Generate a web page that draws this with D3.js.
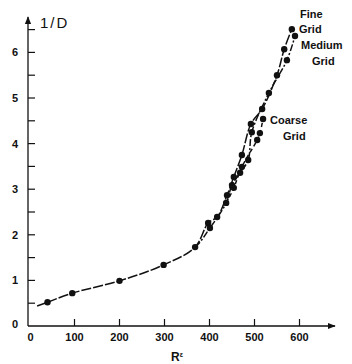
<!DOCTYPE html>
<html>
<head>
<meta charset="utf-8">
<script src="https://cdn.jsdelivr.net/npm/d3@7"></script>
<style>
  html, body { margin: 0; padding: 0; background: #fff; }
  svg { display: block; }
  text { font-family: "Liberation Sans", Arial, sans-serif; fill: #111; }
</style>
</head>
<body>
<svg id="chart" width="352" height="364"></svg>
<script>
// Low-Re points shared by all three grids
const commonR = [40, 95, 200, 298, 368];
const commonV = [0.52, 0.72, 0.99, 1.34, 1.73];

// Fine grid
const fineR = [397, 417, 439, 454, 472, 492, 517, 550, 566, 583];
const fineV = [2.26, 2.39, 2.87, 3.27, 3.75, 4.43, 4.76, 5.50, 6.07, 6.51];

// Medium grid
const mediumR = [401, 437, 450, 468, 486, 494, 532, 572, 590];
const mediumV = [2.15, 2.70, 3.09, 3.36, 3.64, 4.25, 5.11, 5.83, 6.36];

// Coarse grid
const coarseR = [454, 472, 506, 512, 519];
const coarseV = [3.03, 3.49, 4.08, 4.23, 4.54];

const xTicks = [0, 100, 200, 300, 400, 500, 600];
const yTicks = [0, 1, 2, 3, 4, 5, 6];
const yMinorTicks = [0.5, 1.5, 2.5, 3.5, 4.5, 5.5, 6.5];

const svg = d3.select("#chart");
const x = d3.scaleLinear().domain([0, 600]).range([29.5, 299.5]);
const y = d3.scaleLinear().domain([0, 6]).range([326, 52.4]);

const ink = "#111";

// arrowheads
const defs = svg.append("defs");
defs.append("marker").attr("id", "arr").attr("viewBox", "0 0 10 10")
  .attr("refX", 9).attr("refY", 5).attr("markerWidth", 7).attr("markerHeight", 6)
  .attr("orient", "auto")
  .append("path").attr("d", "M0,1 L10,5 L0,9 Z").attr("fill", ink);

// axis lines
svg.append("line").attr("x1", 28).attr("y1", y(0)).attr("x2", 335).attr("y2", y(0))
  .attr("stroke", ink).attr("stroke-width", 1.3).attr("marker-end", "url(#arr)");
svg.append("line").attr("x1", 28).attr("y1", y(0)).attr("x2", 28).attr("y2", 17)
  .attr("stroke", ink).attr("stroke-width", 1.3).attr("marker-end", "url(#arr)");

// x ticks (inward) and labels
const xAxis = svg.append("g");
xAxis.selectAll("line").data(xTicks.filter(d => d > 0)).join("line")
  .attr("x1", d => x(d)).attr("x2", d => x(d))
  .attr("y1", y(0)).attr("y2", y(0) - 7)
  .attr("stroke", ink).attr("stroke-width", 1.2);
xAxis.selectAll("text").data(xTicks).join("text")
  .attr("x", d => x(d) + (d === 0 ? 1 : 0)).attr("y", y(0) + 15)
  .attr("text-anchor", "middle").attr("font-size", 11).attr("font-weight", "bold")
  .text(d => d);

// y ticks (inward) and labels
const yAxis = svg.append("g");
yAxis.selectAll("line").data(yTicks.filter(d => d > 0).concat(yMinorTicks)).join("line")
  .attr("x1", 28).attr("x2", 35)
  .attr("y1", d => y(d)).attr("y2", d => y(d))
  .attr("stroke", ink).attr("stroke-width", 1.2);
yAxis.selectAll("text").data(yTicks).join("text")
  .attr("x", 15).attr("y", d => y(d) + 4 + (d === 0 ? -2 : 0))
  .attr("text-anchor", "middle").attr("font-size", 11).attr("font-weight", "bold")
  .text(d => d);

// axis titles
svg.append("text").attr("x", 40).attr("y", 28).attr("font-size", 15)
  .attr("letter-spacing", 2).text("1/D");
const rt = svg.append("text").attr("x", 171).attr("y", 361).attr("font-size", 12)
  .attr("font-weight", "bold");
rt.append("tspan").text("R");
rt.append("tspan").attr("font-size", 7).attr("dy", -4).text("ε");

// series; `from` marks where a branch leaves the curve it shares points with
const toPts = (R, V) => R.map((r, i) => [r, V[i]]);
const common = toPts(commonR, commonV);
const series = [
  { pts: common.concat(toPts(fineR, fineV)), dash: "10,2" },
  { pts: common.slice(-2).concat(toPts(mediumR, mediumV)), dash: "7,2,2,2", from: 1 },
  { pts: [[mediumR[0], mediumV[0]], [mediumR[1], mediumV[1]]].concat(toPts(coarseR, coarseV)), dash: "4,3", from: 1 }
];

const line = d3.line().x(d => x(d[0])).y(d => y(d[1])).curve(d3.curveCatmullRom.alpha(0.5));

const g = svg.append("g");
series.forEach(s => {
  const p = g.append("path")
    .attr("d", line(s.pts)).attr("fill", "none")
    .attr("stroke", ink).attr("stroke-width", 1.5)
    .attr("stroke-dasharray", s.dash);
  if (s.from) {
    // the leading points only shape the tangent; leave that stretch undrawn
    const tmp = g.append("path").attr("d", line(s.pts.slice(0, s.from + 1))).attr("fill", "none");
    const skip = tmp.node().getTotalLength();
    tmp.remove();
    const total = p.node().getTotalLength();
    const parts = s.dash.split(",").map(Number);
    let arr = [0, skip];
    let len = 0;
    while (len < total) { arr = arr.concat(parts); len += d3.sum(parts); }
    p.attr("stroke-dasharray", arr.join(","));
  }
});

// the short lead-in before the first point
svg.append("path")
  .attr("d", line([[17, 0.44], common[0]]))
  .attr("stroke", ink).attr("stroke-width", 1.5).attr("fill", "none");

// dots
const allPts = common.concat(toPts(fineR, fineV), toPts(mediumR, mediumV), toPts(coarseR, coarseV));
svg.append("g").selectAll("circle").data(allPts).join("circle")
  .attr("cx", d => x(d[0])).attr("cy", d => y(d[1])).attr("r", 3.2).attr("fill", ink);

// series labels
const lab = svg.append("g").attr("font-size", 11).attr("font-weight", "bold");
lab.append("text").attr("x", 300).attr("y", 18).text("Fine");
lab.append("text").attr("x", 299).attr("y", 33).text("Grid");
lab.append("text").attr("x", 301).attr("y", 49).text("Medium");
lab.append("text").attr("x", 312).attr("y", 65).text("Grid");
lab.append("text").attr("x", 270).attr("y", 124).text("Coarse");
lab.append("text").attr("x", 283).attr("y", 140).text("Grid");
</script>
</body>
</html>
